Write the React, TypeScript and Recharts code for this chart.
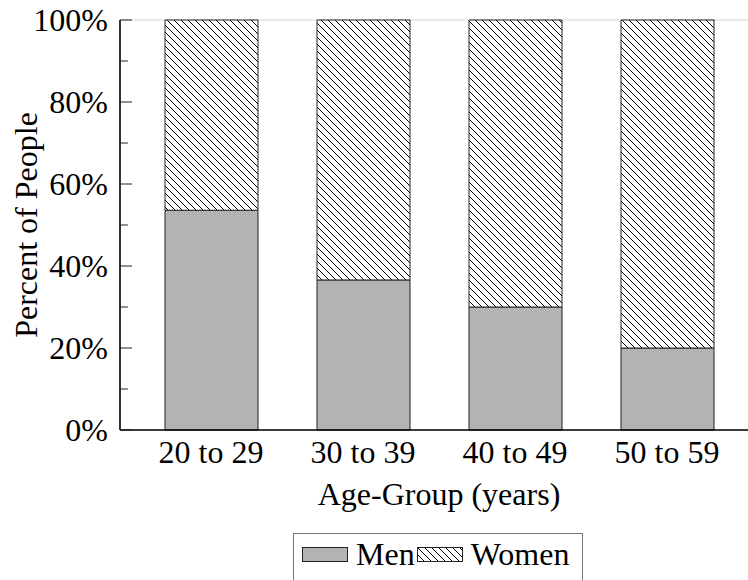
import React from 'react';
import { BarChart, Bar, XAxis, YAxis, CartesianGrid, Legend } from 'recharts';

const ageGroups = ['20 to 29', '30 to 39', '40 to 49', '50 to 59'];
const menPct = [53.6, 36.6, 30, 20];
const womenPct = [46.4, 63.4, 70, 80];
const yTicks = [0, 10, 20, 30, 40, 50, 60, 70, 80, 90, 100];
const yMajorTicks = [0, 20, 40, 60, 80, 100];
const seriesNames = ['Men', 'Women'];

const chartData = ageGroups.map((group, i) => ({
  group,
  men: menPct[i],
  women: womenPct[i],
}));

const FONT = '"Liberation Serif", "Times New Roman", serif';
const MEN_FILL = '#b3b3b3';

// left axis: label + inward tick (long for major, short for minor)
const LeftTick = (props: any) => {
  const { x, y, payload } = props;
  const major = payload.value % 20 === 0;
  return (
    <g>
      <line x1={x + 12} x2={x + (major ? 24 : 20)} y1={y} y2={y} stroke="#222" strokeWidth={1} />
      {major && (
        <text x={x} y={y} dy="0.35em" textAnchor="end" fill="#000" fontSize={32} fontFamily={FONT}>
          {`${payload.value}%`}
        </text>
      )}
    </g>
  );
};

const RightTick = (props: any) => {
  const { x, y } = props;
  return <line x1={x - 12} x2={x} y1={y} y2={y} stroke="#222" strokeWidth={1} />;
};

const Swatch = ({ hatched }: { hatched: boolean }) => (
  <svg width={46} height={15} style={{ display: 'block' }}>
    <rect x={0.5} y={0.5} width={45} height={14} fill={hatched ? 'url(#hatch)' : MEN_FILL} stroke="#222" strokeWidth={1} />
  </svg>
);

const LegendBox = () => (
  <div
    style={{
      display: 'flex',
      alignItems: 'center',
      border: '1px solid #777',
      background: '#fff',
      padding: '2px 13px 40px 8px',
      fontFamily: FONT,
      fontSize: 32,
      color: '#000',
      whiteSpace: 'nowrap',
    }}
  >
    {seriesNames.map((name, i) => (
      <div key={name} style={{ display: 'flex', alignItems: 'center', marginRight: i === 0 ? 2 : 0 }}>
        <Swatch hatched={i === 1} />
        <span style={{ marginLeft: 8 }}>{name}</span>
      </div>
    ))}
  </div>
);

const App: React.FC = () => {
  return (
    <div style={{ position: 'absolute', left: 0, top: 0, width: 748, height: 580, overflow: 'hidden', background: '#fff' }}>
      <svg width={0} height={0} style={{ position: 'absolute' }}>
        <defs>
          {/* north-west lines, one diagonal per 7px tile */}
          <pattern id="hatch" patternUnits="userSpaceOnUse" width={7} height={7}>
            <rect width={7} height={7} fill="#fff" />
            <path d="M-1,-1 L8,8 M-1,6 L1,8 M6,-1 L8,1" stroke="#000" strokeWidth={1} />
          </pattern>
        </defs>
      </svg>
      <BarChart
        width={760}
        height={600}
        data={chartData}
        margin={{ top: 20, right: 0, left: 0, bottom: 90 }}
        style={{ fontFamily: FONT }}
      >
        <CartesianGrid xAxisId="b" yAxisId="r" vertical={false} stroke="#d4d4d4" strokeWidth={1} />
        <XAxis
          xAxisId="b"
          dataKey="group"
          type="category"
          height={80}
          padding={{ left: 15, right: 15 }}
          axisLine={{ stroke: '#000', strokeWidth: 1.6 }}
          tickLine={false}
          tickSize={0}
          tickMargin={10}
          tick={{ fill: '#000', fontSize: 32, fontFamily: FONT }}
          interval={0}
          label={{ value: 'Age-Group (years)', position: 'insideBottom', offset: 5, fill: '#000', fontSize: 32, fontFamily: FONT }}
        />
        <XAxis
          xAxisId="t"
          dataKey="group"
          type="category"
          orientation="top"
          height={0}
          padding={{ left: 15, right: 15 }}
          axisLine={{ stroke: '#000', strokeWidth: 1.6 }}
          tickLine={{ stroke: '#222', strokeWidth: 1 }}
          tickSize={-6}
          tick={false}
          interval={0}
        />
        <YAxis
          yAxisId="l"
          type="number"
          domain={[0, 100]}
          ticks={yTicks}
          interval={0}
          width={120}
          axisLine={{ stroke: '#000', strokeWidth: 1.6 }}
          tickLine={false}
          tickSize={0}
          tickMargin={12}
          tick={<LeftTick />}
          label={{
            value: 'Percent of People',
            angle: -90,
            position: 'insideLeft',
            offset: 26,
            fill: '#000',
            fontSize: 32,
            fontFamily: FONT,
            style: { textAnchor: 'middle' },
          }}
        />
        <YAxis
          yAxisId="r"
          orientation="right"
          type="number"
          domain={[0, 100]}
          ticks={yMajorTicks}
          interval={0}
          width={2}
          axisLine={false}
          tickLine={false}
          tickSize={0}
          tickMargin={0}
          tick={<RightTick />}
        />
        <Bar
          xAxisId="b"
          yAxisId="l"
          dataKey="men"
          name="Men"
          stackId="a"
          barSize={93}
          fill={MEN_FILL}
          stroke="#222"
          strokeWidth={1}
          isAnimationActive={false}
        />
        <Bar
          xAxisId="b"
          yAxisId="l"
          dataKey="women"
          name="Women"
          stackId="a"
          barSize={93}
          fill="url(#hatch)"
          stroke="#222"
          strokeWidth={1}
          isAnimationActive={false}
        />
        <Legend
          layout="vertical"
          verticalAlign="middle"
          align="center"
          content={() => <LegendBox />}
          wrapperStyle={{ left: 293, top: 533, width: 'auto', height: 'auto' }}
        />
      </BarChart>
    </div>
  );
};

export default App;
